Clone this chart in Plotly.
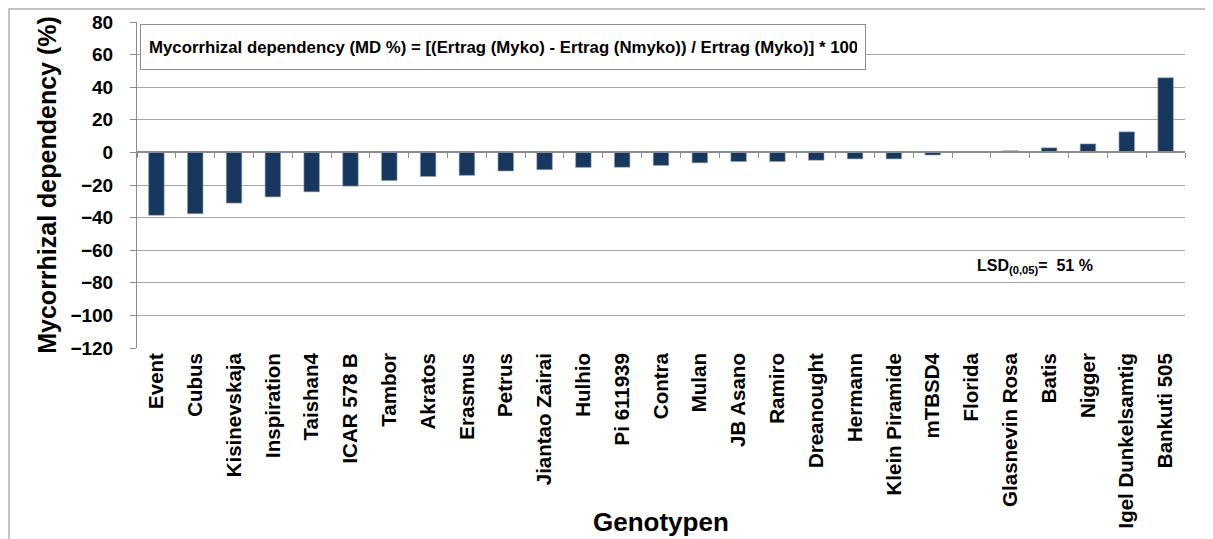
import plotly.graph_objects as go

# genotypes, sorted by mycorrhizal dependency
genotypes = [
    "Event", "Cubus", "Kisinevskaja", "Inspiration", "Taishan4", "ICAR 578 B",
    "Tambor", "Akratos", "Erasmus", "Petrus", "Jiantao Zairai", "Hulhio",
    "Pi 611939", "Contra", "Mulan", "JB Asano", "Ramiro", "Dreanought",
    "Hermann", "Klein Piramide", "mTBSD4", "Florida", "Glasnevin Rosa",
    "Batis", "Nigger", "Igel Dunkelsamtig", "Bankuti 505",
]
md_percent = [
    -38.6, -37.6, -31.1, -27.3, -24.2, -20.7,
    -17.3, -14.8, -14.1, -11.4, -10.6, -9.2,
    -9.1, -8.0, -6.4, -5.6, -5.6, -4.8,
    -4.0, -4.0, -1.6, 0.0, 1.0,
    2.8, 5.2, 12.6, 45.8,
]
y_ticks = [80, 60, 40, 20, 0, -20, -40, -60, -80, -100, -120]

FONT = "Liberation Sans, Arial, sans-serif"
y_min, y_max = -120, 80
x_range = [-0.5, len(genotypes) - 0.5]

fig = go.Figure()

fig.add_trace(go.Bar(
    x=genotypes,
    y=md_percent,
    marker=dict(color="#17375E", line=dict(color="#8EA4C0", width=0.6)),
    showlegend=False,
))

# invisible trace so the zero axis (with category ticks) is drawn
fig.add_trace(go.Scatter(
    x=genotypes, y=[0] * len(genotypes), xaxis="x2",
    mode="markers", marker=dict(opacity=0), showlegend=False, hoverinfo="skip",
))

zero_pos = (0 - y_min) / (y_max - y_min)

fig.update_layout(
    width=1213,
    height=539,
    margin=dict(l=129, r=36, t=14, b=199),
    paper_bgcolor="white",
    plot_bgcolor="white",
    font=dict(family=FONT, color="black"),
    bargap=0.6,
    xaxis=dict(
        type="category",
        range=x_range,
        automargin=False,
        tickangle=-90,
        tickfont=dict(size=20.5, family=FONT, color="black", weight="bold"),
        showgrid=False,
        showline=False,
        ticks="",
    ),
    xaxis2=dict(
        type="category",
        overlaying="x",
        range=x_range,
        anchor="free",
        position=zero_pos,
        automargin=False,
        showline=True,
        linecolor="#8c8c8c",
        linewidth=1.5,
        ticks="outside",
        tickson="boundaries",
        ticklen=5,
        tickcolor="#8c8c8c",
        showticklabels=False,
        showgrid=False,
    ),
    yaxis=dict(
        range=[y_min, y_max],
        automargin=False,
        tickvals=y_ticks,
        tickfont=dict(size=19, family=FONT, color="black", weight="bold"),
        ticklabelstandoff=13,
        showgrid=True,
        gridcolor="#a6a6a6",
        gridwidth=1,
        zeroline=False,
        showline=True,
        linecolor="#8c8c8c",
        ticks="outside",
        ticklen=6,
        tickcolor="#8c8c8c",
        title=dict(text="Mycorrhizal dependency (%)", font=dict(size=25, weight="bold"), standoff=6),
    ),
)

# x axis title, placed beside the long rotated labels as in the original
fig.add_annotation(
    xref="paper", yref="paper", x=0.5, y=-0.534,
    xanchor="center", yanchor="middle",
    text="<b>Genotypen</b>",
    font=dict(size=26, family=FONT, color="black"),
    showarrow=False,
)

# formula box
fig.add_annotation(
    xref="paper", yref="paper", x=0.003, y=0.994,
    xanchor="left", yanchor="top",
    text="<b>Mycorrhizal dependency (MD %) = [(Ertrag (Myko) - Ertrag (Nmyko)) / Ertrag (Myko)] * 100</b>",
    font=dict(size=16.8, family=FONT, color="black"),
    showarrow=False, align="left",
    width=708, height=28, borderpad=8,
    bordercolor="#8c8c8c", borderwidth=1, bgcolor="white",
)

# LSD label
fig.add_annotation(
    xref="paper", yref="y", x=0.80, y=-70,
    xanchor="left", yanchor="middle",
    text="<b>LSD<sub>(0,05)</sub>=  51 %</b>",
    font=dict(size=16, family=FONT, color="black"),
    showarrow=False,
)

# outer chart border
fig.add_shape(
    type="rect", xref="paper", yref="paper",
    x0=-128 / 1048, x1=1.2, y0=-1.0, y1=1 + 13 / 326,
    line=dict(color="#b0b0b0", width=1.5), layer="below",
)

fig.write_html("out.html")
